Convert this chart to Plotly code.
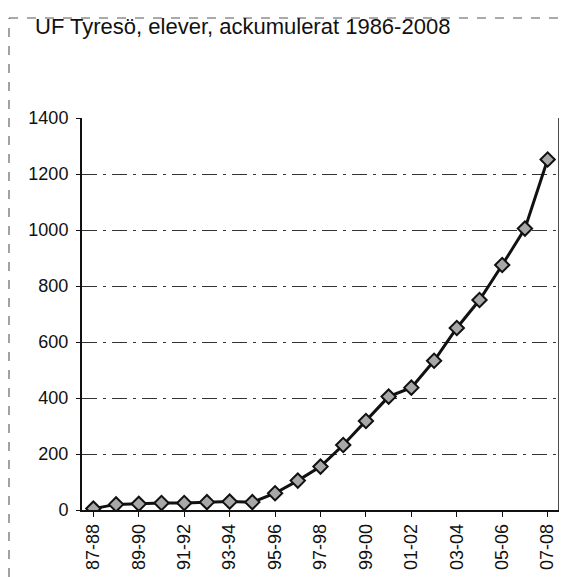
import plotly.graph_objects as go

categories = ["87-88", "88-89", "89-90", "90-91", "91-92", "92-93", "93-94", "94-95",
              "95-96", "96-97", "97-98", "98-99", "99-00", "00-01", "01-02", "02-03",
              "03-04", "04-05", "05-06", "06-07", "07-08"]
values = [5, 20, 22, 25, 25, 28, 30, 28, 60, 105, 155, 232, 318, 405, 437, 533,
          650, 750, 875, 1005, 1252]
shown_labels = categories[::2]
y_ticks = [0, 200, 400, 600, 800, 1000, 1200, 1400]

# page body has an 8px margin: figure occupies (8,8)-(567,577)
W, H = 559, 569
L, R, T, B = 74, 8, 110, 67
pw, ph = W - L - R, H - T - B

fig = go.Figure()
fig.add_trace(go.Scatter(
    x=categories, y=values, mode="lines+markers",
    line=dict(color="#111111", width=3),
    marker=dict(symbol="diamond", size=11, color="#a8a8a8",
                line=dict(color="#111111", width=2)),
    showlegend=False,
))

fig.update_layout(
    width=W, height=H,
    margin=dict(l=L, r=R, t=T, b=B, autoexpand=False),
    paper_bgcolor="white", plot_bgcolor="white",
    font=dict(family="Liberation Sans, Arial, sans-serif", color="#111111"),
    title=dict(text="UF Tyresö, elever, ackumulerat 1986-2008",
               x=27/W, xanchor="left", y=1-18/H, yanchor="middle",
               font=dict(size=22, color="#111111")),
    xaxis=dict(type="category", categoryorder="array", categoryarray=categories,
               tickmode="array", tickvals=shown_labels, ticktext=shown_labels,
               tickangle=-90, tickfont=dict(size=18),
               showline=True, linecolor="#111111", linewidth=1.5,
               ticks="outside", ticklen=5, tickcolor="#111111",
               showgrid=False, mirror=False, automargin=False,
               range=[-0.5, len(categories) - 0.5]),
    yaxis=dict(range=[0, 1400], tickmode="array", tickvals=y_ticks,
               tickfont=dict(size=18), ticks="outside", ticklen=4, tickcolor="#111111",
               ticklabelstandoff=4,
               showline=True, linecolor="#111111", linewidth=2,
               showgrid=True, gridcolor="#333333", gridwidth=1, griddash="longdashdot",
               zeroline=False, automargin=False),
)

# right border of plot area
fig.add_shape(type="line", xref="paper", yref="paper", x0=1, x1=1, y0=0, y1=1,
              line=dict(color="#111111", width=1.5))
# faint dashed outer chart frame (page coords -> paper coords)
def px(x):
    return (x - 8 - L) / pw
def py(y):
    return (H - B + 8 - y) / ph

fig.add_shape(type="line", xref="paper", yref="paper",
              x0=px(9), x1=px(9), y0=py(577), y1=py(18),
              line=dict(color="#444444", width=1, dash="dash"))
fig.add_shape(type="line", xref="paper", yref="paper",
              x0=px(9), x1=px(560), y0=py(18), y1=py(18),
              line=dict(color="#555555", width=1, dash="dash"))

fig.write_html("out.html")
